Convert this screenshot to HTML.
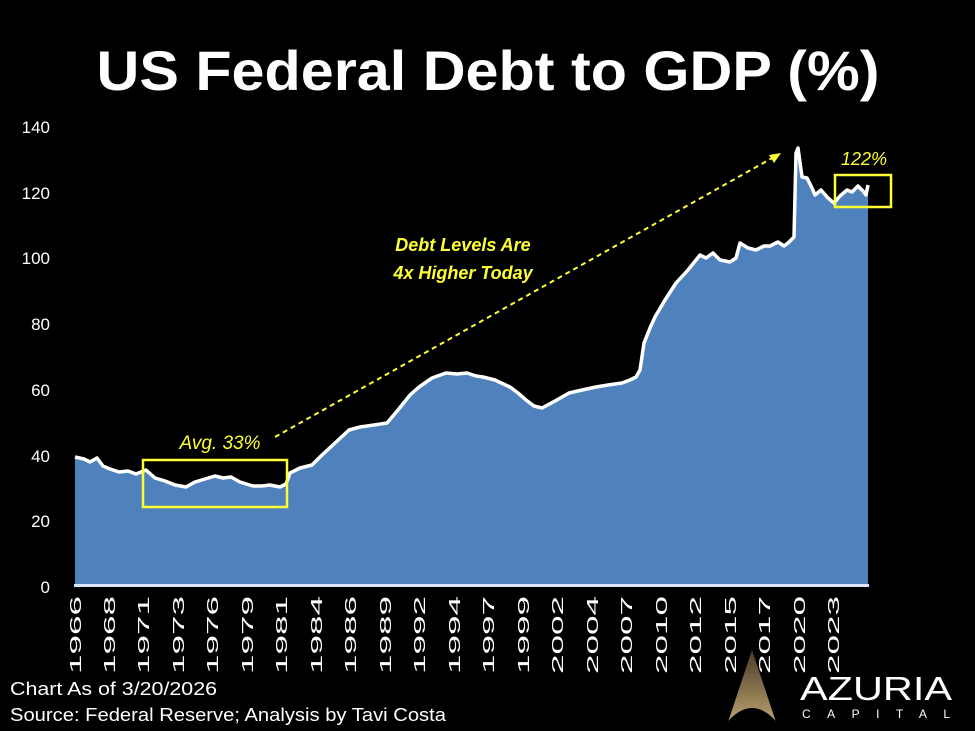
<!DOCTYPE html>
<html><head><meta charset="utf-8"><style>
html,body{margin:0;padding:0;background:#000;}
svg{display:block;}
text{font-family:"Liberation Sans",sans-serif;}
</style></head><body>
<svg width="975" height="731" viewBox="0 0 975 731" xmlns="http://www.w3.org/2000/svg">
<rect width="975" height="731" fill="#000"/>
<text x="488" y="90" fill="#fff" font-size="56" font-weight="bold" text-anchor="middle" textLength="783" lengthAdjust="spacingAndGlyphs">US Federal Debt to GDP (%)</text>
<g fill="#fff" font-size="17" text-anchor="end">
<text x="50" y="133">140</text><text x="50" y="199">120</text><text x="50" y="264">100</text>
<text x="50" y="330">80</text><text x="50" y="396">60</text><text x="50" y="462">40</text>
<text x="50" y="527">20</text><text x="50" y="593">0</text>
</g>
<path d="M75,457 L84,459 L90,462 L97,458 L103,466 L110,469 L119,472 L128,471 L136,474 L146,470 L155,478 L165,481 L175,485 L186,487 L195,482 L205,479 L215,476 L223,478 L231,477 L240,482 L253,486 L262,486 L270,485 L280,487 L286,484 L290,473 L300,468 L312,465 L322,455 L335,443 L349,430 L360,427 L374,425 L387,423 L398,410 L410,395 L419,387 L432,378 L446,373 L457,374 L467,373 L476,376 L483,377 L495,380 L510,387 L518,393 L526,400 L534,406 L542,408 L555,401 L569,393 L582,390 L596,387 L608,385 L622,383 L630,380 L636,377 L640,370 L644,343 L650,328 L655,317 L665,300 L676,283 L688,270 L700,255 L706,258 L713,253 L720,260 L730,262 L736,258 L740,243 L748,248 L756,250 L764,246 L770,246 L778,242 L784,246 L788,243 L794,237 L796,153 L798,148 L802,177 L807,178 L812,188 L815,195 L821,190 L828,198 L834,203 L840,196 L847,190 L852,192 L858,186 L863,191 L866,195 L868,185 L868,585 L75,585 Z" fill="#4f81bd" stroke="none"/>
<path d="M75,457 L84,459 L90,462 L97,458 L103,466 L110,469 L119,472 L128,471 L136,474 L146,470 L155,478 L165,481 L175,485 L186,487 L195,482 L205,479 L215,476 L223,478 L231,477 L240,482 L253,486 L262,486 L270,485 L280,487 L286,484 L290,473 L300,468 L312,465 L322,455 L335,443 L349,430 L360,427 L374,425 L387,423 L398,410 L410,395 L419,387 L432,378 L446,373 L457,374 L467,373 L476,376 L483,377 L495,380 L510,387 L518,393 L526,400 L534,406 L542,408 L555,401 L569,393 L582,390 L596,387 L608,385 L622,383 L630,380 L636,377 L640,370 L644,343 L650,328 L655,317 L665,300 L676,283 L688,270 L700,255 L706,258 L713,253 L720,260 L730,262 L736,258 L740,243 L748,248 L756,250 L764,246 L770,246 L778,242 L784,246 L788,243 L794,237 L796,153 L798,148 L802,177 L807,178 L812,188 L815,195 L821,190 L828,198 L834,203 L840,196 L847,190 L852,192 L858,186 L863,191 L866,195 L868,185" fill="none" stroke="#fff" stroke-width="3.5" stroke-linejoin="round"/>
<rect x="74" y="584" width="795" height="3" fill="#d9e6f5"/>
<rect x="143" y="460" width="144" height="47" fill="none" stroke="#ffff33" stroke-width="2.5"/>
<rect x="835" y="175" width="56" height="32" fill="none" stroke="#ffff33" stroke-width="2.5"/>
<line x1="275" y1="437" x2="774" y2="157" stroke="#ffff33" stroke-width="2" stroke-dasharray="5,4"/>
<polygon points="781,153 769,155 774,163" fill="#ffff33"/>
<g fill="#ffff33" font-style="italic">
<text x="220" y="449" font-size="19" text-anchor="middle">Avg. 33%</text>
<text x="864" y="165" font-size="18" text-anchor="middle">122%</text>
<text x="463" y="251" font-size="18" font-weight="bold" text-anchor="middle">Debt Levels Are</text>
<text x="463" y="279" font-size="18" font-weight="bold" text-anchor="middle">4x Higher Today</text>
</g>
<g fill="#fff" font-size="16">
<text transform="translate(81,674) rotate(-90)" textLength="78" lengthAdjust="spacingAndGlyphs">1966</text>
<text transform="translate(115,674) rotate(-90)" textLength="78" lengthAdjust="spacingAndGlyphs">1968</text>
<text transform="translate(149,674) rotate(-90)" textLength="78" lengthAdjust="spacingAndGlyphs">1971</text>
<text transform="translate(184,674) rotate(-90)" textLength="78" lengthAdjust="spacingAndGlyphs">1973</text>
<text transform="translate(218,674) rotate(-90)" textLength="78" lengthAdjust="spacingAndGlyphs">1976</text>
<text transform="translate(253,674) rotate(-90)" textLength="78" lengthAdjust="spacingAndGlyphs">1979</text>
<text transform="translate(287,674) rotate(-90)" textLength="78" lengthAdjust="spacingAndGlyphs">1981</text>
<text transform="translate(322,674) rotate(-90)" textLength="78" lengthAdjust="spacingAndGlyphs">1984</text>
<text transform="translate(356,674) rotate(-90)" textLength="78" lengthAdjust="spacingAndGlyphs">1986</text>
<text transform="translate(391,674) rotate(-90)" textLength="78" lengthAdjust="spacingAndGlyphs">1989</text>
<text transform="translate(425,674) rotate(-90)" textLength="78" lengthAdjust="spacingAndGlyphs">1992</text>
<text transform="translate(460,674) rotate(-90)" textLength="78" lengthAdjust="spacingAndGlyphs">1994</text>
<text transform="translate(494,674) rotate(-90)" textLength="78" lengthAdjust="spacingAndGlyphs">1997</text>
<text transform="translate(529,674) rotate(-90)" textLength="78" lengthAdjust="spacingAndGlyphs">1999</text>
<text transform="translate(563,674) rotate(-90)" textLength="78" lengthAdjust="spacingAndGlyphs">2002</text>
<text transform="translate(598,674) rotate(-90)" textLength="78" lengthAdjust="spacingAndGlyphs">2004</text>
<text transform="translate(632,674) rotate(-90)" textLength="78" lengthAdjust="spacingAndGlyphs">2007</text>
<text transform="translate(667,674) rotate(-90)" textLength="78" lengthAdjust="spacingAndGlyphs">2010</text>
<text transform="translate(701,674) rotate(-90)" textLength="78" lengthAdjust="spacingAndGlyphs">2012</text>
<text transform="translate(736,674) rotate(-90)" textLength="78" lengthAdjust="spacingAndGlyphs">2015</text>
<text transform="translate(770,674) rotate(-90)" textLength="78" lengthAdjust="spacingAndGlyphs">2017</text>
<text transform="translate(805,674) rotate(-90)" textLength="78" lengthAdjust="spacingAndGlyphs">2020</text>
<text transform="translate(839,674) rotate(-90)" textLength="78" lengthAdjust="spacingAndGlyphs">2023</text>
</g>
<g fill="#fff" font-size="18">
<text x="10" y="695" textLength="207" lengthAdjust="spacingAndGlyphs">Chart As of 3/20/2026</text>
<text x="10" y="721" textLength="436" lengthAdjust="spacingAndGlyphs">Source: Federal Reserve; Analysis by Tavi Costa</text>
</g>
<defs><linearGradient id="g" x1="0" y1="0" x2="0" y2="1"><stop offset="0" stop-color="#5a4a30"/><stop offset="1" stop-color="#e8c98a"/></linearGradient></defs>
<polygon points="752,650 728,722 776,722" fill="url(#g)" opacity="0.8"/>
<path d="M724,726 Q752,690 780,726 Z" fill="#000"/>
<text x="876" y="700" fill="#fff" font-size="33" text-anchor="middle" textLength="152" lengthAdjust="spacingAndGlyphs">AZURIA</text>
<text x="876" y="718" fill="#fff" font-size="12" text-anchor="middle" textLength="148" lengthAdjust="spacing">CAPITAL</text>
</svg>
</body></html>
